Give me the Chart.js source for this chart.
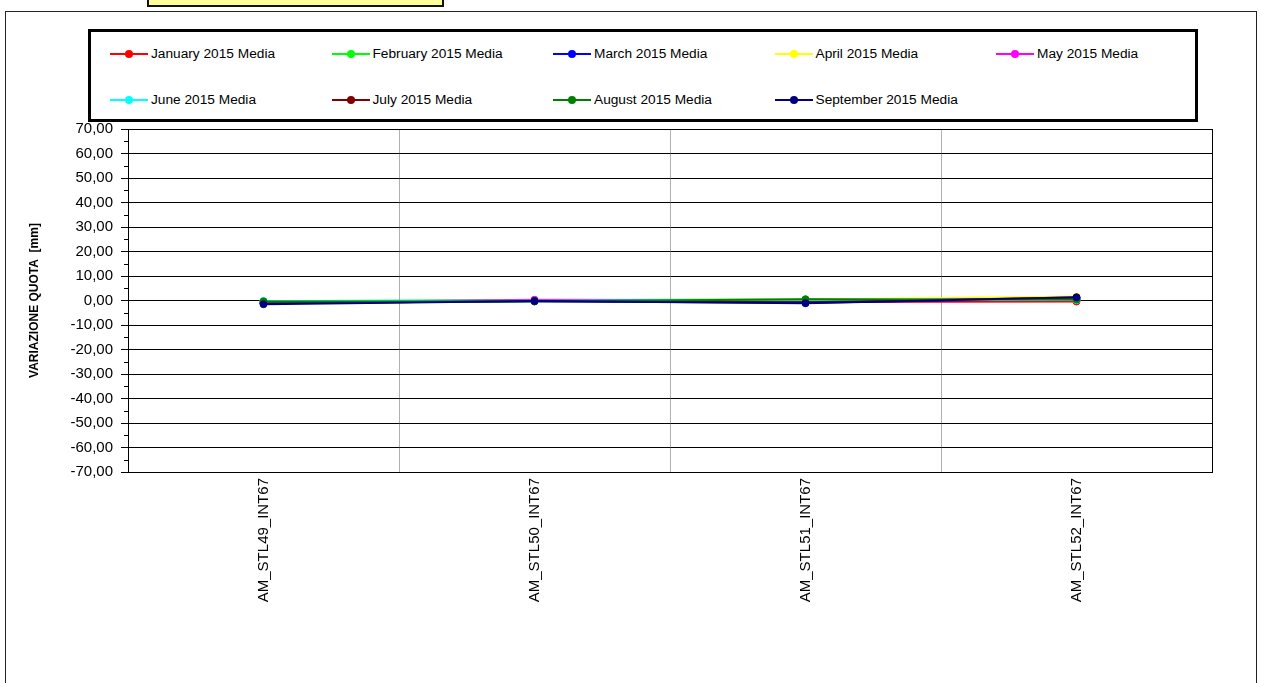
<!DOCTYPE html>
<html>
<head>
<meta charset="utf-8">
<script src="https://cdn.jsdelivr.net/npm/chart.js@4.4.0/dist/chart.umd.min.js"></script>
<style>
  body { margin: 0; background: #fff; font-family: "Liberation Sans", Arial, sans-serif; }
  #frame { position: absolute; left: 5px; top: 11px; width: 1250px; height: 680px; border: 1px solid #222; }
  #note { position: absolute; left: 147px; top: -10px; width: 293px; height: 13px; background: #ffff99; border: 2px solid #111; }
  #legend { position: absolute; left: 88px; top: 29px; width: 1104px; height: 87px; border: 3px solid #000; background: #fff; }
  .item { position: absolute; height: 16px; font-size: 13.7px; line-height: 16px; color: #000; white-space: nowrap; }
  .item .ln { position: absolute; left: 0; top: 7px; width: 38px; height: 2px; }
  .item .dot { position: absolute; left: 15px; top: 4px; width: 8px; height: 8px; border-radius: 50%; }
  .item .tx { position: absolute; left: 41px; top: 0; }
  canvas { position: absolute; left: 0; top: 0; }
</style>
</head>
<body>
<div id="frame"></div>
<div id="note"></div>
<div id="legend"></div>
<canvas id="chart" width="1262" height="683"></canvas>
<script>
// categories on the x axis
const categories = ["AM_STL49_INT67", "AM_STL50_INT67", "AM_STL51_INT67", "AM_STL52_INT67"];

// series names and colours
const seriesNames = [
  "January 2015 Media", "February 2015 Media", "March 2015 Media",
  "April 2015 Media", "May 2015 Media", "June 2015 Media",
  "July 2015 Media", "August 2015 Media", "September 2015 Media"
];
const seriesColors = ["#ff0000", "#00ff00", "#0000ff", "#ffff00", "#ff00ff", "#00ffff", "#800000", "#008000", "#000080"];

// values in mm
const january = [-0.8, 0.0, -0.6, -0.4];
const february = [-0.3, 0.2, 0.4, 0.3];
const march = [-1.0, -0.3, -0.9, 0.8];
const april = [-0.6, 0.1, 0.3, 1.6];
const may = [-0.9, 0.3, 0.0, 0.5];
const june = [-0.2, -0.1, 0.2, 0.2];
const july = [-1.1, -0.2, -0.7, 1.2];
const august = [-0.4, -0.4, 0.5, 0.4];
const september = [-1.5, -0.2, -1.1, 1.3];
const seriesValues = [january, february, march, april, may, june, july, august, september];

// y axis
const yMin = -70, yMax = 70, yStep = 10, yMinorStep = 5;
const yTitle = "VARIAZIONE QUOTA  [mm]";

const FONT = "'Liberation Sans', Arial, sans-serif";

var datasets = seriesNames.map((name, i) => ({
  label: name,
  data: seriesValues[i],
  borderColor: seriesColors[i],
  backgroundColor: seriesColors[i],
  pointBackgroundColor: seriesColors[i],
  pointBorderColor: seriesColors[i],
  borderWidth: 2,
  pointRadius: 3.5,
  pointBorderWidth: 1,
  tension: 0,
  order: seriesNames.length - i
}));

// outer plot border + minor ticks on the y axis
const plotExtras = {
  id: 'plotExtras',
  afterDraw(chart) {
    const ctx = chart.ctx;
    const a = chart.chartArea;
    const y = chart.scales.y;
    ctx.save();
    ctx.strokeStyle = '#000';
    ctx.lineWidth = 1;
    for (let v = yMin; v <= yMax; v += yMinorStep) {
      if (v % yStep === 0) continue;
      const py = Math.round(y.getPixelForValue(v)) + 0.5;
      ctx.beginPath();
      ctx.moveTo(a.left - 4, py);
      ctx.lineTo(a.left, py);
      ctx.stroke();
    }
    ctx.strokeRect(Math.round(a.left) + 0.5, Math.round(a.top) + 0.5, Math.round(a.right - a.left), Math.round(a.bottom - a.top));
    ctx.restore();
  }
};

function buildLegend(chart) {
  var box = document.getElementById('legend');
  box.innerHTML = '';
  chart.data.datasets.forEach((ds, i) => {
    var row = Math.floor(i / 5), col = i % 5;
    var el = document.createElement('div');
    el.className = 'item';
    el.style.left = (19 + col * 221.5) + 'px';
    el.style.top = (14 + row * 46) + 'px';
    el.innerHTML = '<span class="ln" style="background:' + ds.borderColor + '"></span>' +
      '<span class="dot" style="background:' + ds.borderColor + '"></span>' +
      '<span class="tx">' + ds.label + '</span>';
    box.appendChild(el);
  });
}

const ctx = document.getElementById('chart').getContext('2d');
const chart = new Chart(ctx, {
  type: 'line',
  data: { labels: categories, datasets: datasets },
  options: {
    responsive: false,
    animation: false,
    layout: { padding: { left: 27, top: 129, right: 50, bottom: 0 } },
    plugins: { legend: { display: false }, tooltip: { enabled: false } },
    scales: {
      x: {
        offset: true,
        grid: { offset: true, color: '#b0b0b0', lineWidth: 1, drawTicks: false },
        border: { display: true, color: '#000' },
        ticks: {
          color: '#000', font: { family: FONT, size: 15 },
          minRotation: 90, maxRotation: 90, padding: 6, autoSkip: false
        },
        afterFit: s => { s.height = 211; }
      },
      y: {
        min: yMin, max: yMax,
        grid: { color: '#000', lineWidth: 1, tickLength: 7, tickColor: '#000' },
        border: { display: true, color: '#000' },
        ticks: {
          stepSize: yStep, color: '#000', padding: 8,
          font: { family: FONT, size: 15 },
          callback: v => v.toFixed(2).replace('.', ',')
        },
        title: {
          display: true, text: yTitle, color: '#000',
          font: { family: FONT, size: 12, weight: 'bold' }, padding: { top: 0, bottom: 6 }
        },
        afterFit: s => { s.width = 101; }
      }
    }
  },
  plugins: [plotExtras]
});
buildLegend(chart);
</script>
</body>
</html>
